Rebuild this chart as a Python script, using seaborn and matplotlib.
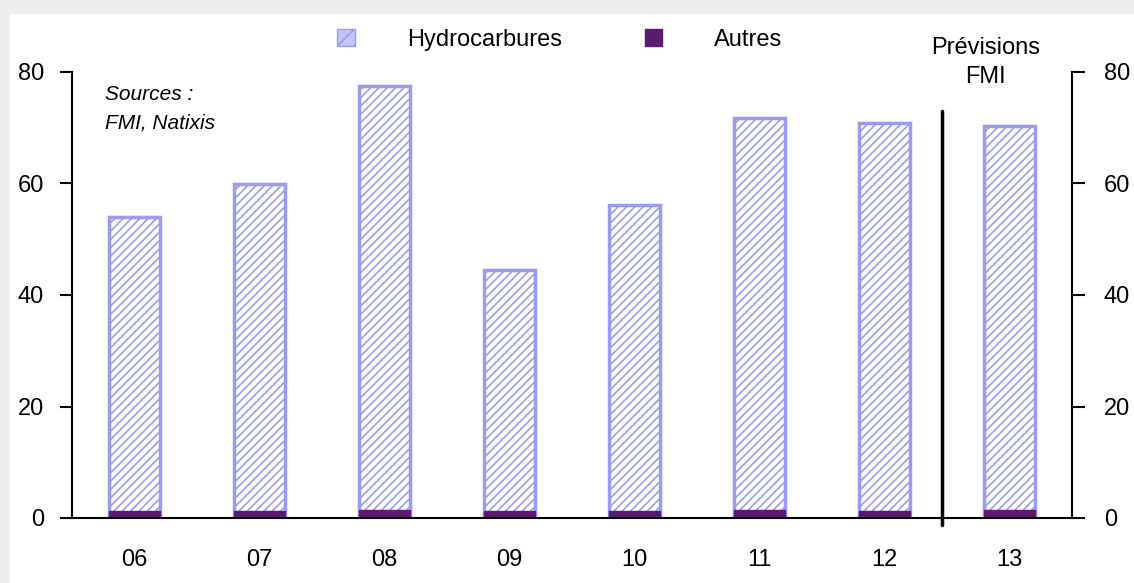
import numpy as np
import pandas as pd
import matplotlib.pyplot as plt
import matplotlib.patches as mpatches
import seaborn as sns

sns.set_style('white')
plt.rcParams['font.family'] = ['Liberation Sans', 'DejaVu Sans']
plt.rcParams['text.color'] = 'black'
plt.rcParams['xtick.color'] = 'black'
plt.rcParams['ytick.color'] = 'black'
plt.rcParams['hatch.color'] = '#9b9bf5'
plt.rcParams['hatch.linewidth'] = 1.2

annees = ['06', '07', '08', '09', '10', '11', '12', '13']
autres = [1.2, 1.2, 1.5, 1.2, 1.2, 1.5, 1.2, 1.5]
hydrocarbures = [52.8, 58.7, 76.0, 43.3, 54.9, 70.2, 69.7, 68.8]

df = pd.DataFrame({'annee': annees, 'hydro': hydrocarbures, 'autres': autres})
df['total'] = df['hydro'] + df['autres']

lilas = '#9b9bf5'
violet = '#5a1a6e'

fig = plt.figure(figsize=(11.34, 5.83), dpi=100, facecolor='#eeeeee')
fig.patches.append(mpatches.Rectangle((10 / 1134, 0), 1, 1 - 14 / 583,
                                      transform=fig.transFigure, facecolor='white',
                                      edgecolor='none', zorder=-1))
ax = fig.add_axes([72 / 1134, 65 / 583, 1000 / 1134, 446 / 583])
ax.set_facecolor('none')

sns.barplot(data=df, x='annee', y='total', color='white', width=0.41,
            saturation=1, ax=ax)
for p in ax.patches:
    p.set_hatch('////')
    p.set_edgecolor(lilas)
    p.set_linewidth(2.5)
n = len(ax.patches)
sns.barplot(data=df, x='annee', y='autres', color=violet, width=0.41,
            saturation=1, ax=ax)
for p in ax.patches[n:]:
    p.set_edgecolor(violet)
    p.set_linewidth(1)

ax.set_xlim(-0.5, len(annees) - 0.5)
ax.set_ylim(0, 80)
ax.set_yticks([0, 20, 40, 60, 80])
ax.set_xlabel('')
ax.set_ylabel('')
ax.set_xticks(np.arange(0.5, len(annees) - 0.5), minor=True)
ax.tick_params(axis='x', which='major', length=0, pad=22, labelsize=17)
ax.tick_params(axis='x', which='minor', length=8, width=1.5, direction='out', color='black')
ax.tick_params(axis='y', length=9, width=1.5, direction='out', left=True, pad=11, labelsize=17)
for s in ['top', 'right']:
    ax.spines[s].set_visible(False)
for s in ['left', 'bottom']:
    ax.spines[s].set_color('black')
    ax.spines[s].set_linewidth(1.5)

ax2 = ax.twinx()
ax2.set_ylim(0, 80)
ax2.set_yticks([0, 20, 40, 60, 80])
ax2.tick_params(axis='y', length=9, width=1.5, direction='out', right=True, pad=14, labelsize=17)
for s in ['top', 'left', 'bottom']:
    ax2.spines[s].set_visible(False)
ax2.spines['right'].set_color('black')
ax2.spines['right'].set_linewidth(1.5)

# separation prevision
ax.plot([6.46, 6.46], [-1.2, 73], color='black', lw=2.5, clip_on=False)
ax.text(6.81, 81.7, 'Prévisions\nFMI', ha='center', va='center', fontsize=17,
        linespacing=1.45)
ax.text(-0.236, 77.6, 'Sources :\nFMI, Natixis', ha='left', va='top', fontsize=15,
        style='italic', linespacing=1.6)

h1 = mpatches.Patch(facecolor='#c4c4fa', edgecolor=lilas, hatch='//', label='Hydrocarbures')
h2 = mpatches.Patch(facecolor=violet, edgecolor=violet, label='Autres')
fig.legend(handles=[h1, h2], loc='center', bbox_to_anchor=(560 / 1134, 1 - 40 / 583),
           ncol=2, frameon=False, fontsize=17, handlelength=0.75, handleheight=0.75,
           handletextpad=2.2, columnspacing=3.5)

fig.savefig('out.png', dpi=100, facecolor=fig.get_facecolor())
